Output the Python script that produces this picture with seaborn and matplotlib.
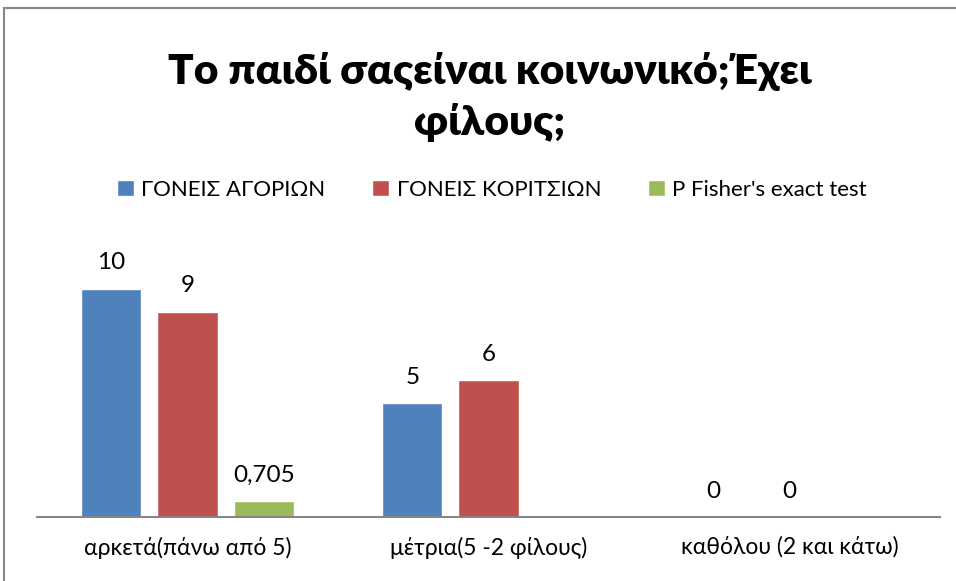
import matplotlib
matplotlib.use("Agg")
import matplotlib.pyplot as plt
import seaborn as sns
import pandas as pd
import numpy as np
from matplotlib.patches import Rectangle

# Chart data
categories = ["αρκετά(πάνω από 5)", "μέτρια(5 -2 φίλους)", "καθόλου (2 και κάτω)"]
series = ["ΓΟΝΕΙΣ ΑΓΟΡΙΩΝ", "ΓΟΝΕΙΣ ΚΟΡΙΤΣΙΩΝ", "P Fisher's exact test"]
boys = [10, 5, 0]
girls = [9, 6, 0]
fisher_p = [0.705, np.nan, np.nan]
colors = ["#4F81BD", "#C0504D", "#9BBB59"]
title = "Το παιδί σαςείναι κοινωνικό;Έχει\nφίλους;"

rows = []
for name, vals in zip(series, [boys, girls, fisher_p]):
    for cat, v in zip(categories, vals):
        rows.append({"category": cat, "series": name, "value": v})
df = pd.DataFrame(rows)

sns.set_theme(style="white")
plt.rcParams["font.family"] = ["Lato", "Noto Sans", "DejaVu Sans"]
plt.rcParams["text.color"] = "black"

W, H = 956, 581
fig = plt.figure(figsize=(W / 100, H / 100), dpi=100)
ax = fig.add_axes([37 / W, 1 - 517 / H, 903 / W, 274 / H])

sns.barplot(data=df, x="category", y="value", hue="series",
            order=categories, hue_order=series, palette=colors,
            width=0.76, gap=0.21, ax=ax, legend=True, saturation=1)

ax.set_ylim(0, 12)
ax.set_xlim(-0.5, 2.5)
ax.set_xlabel("")
ax.set_ylabel("")
ax.set_yticks([])
for side in ["left", "right", "top"]:
    ax.spines[side].set_visible(False)
ax.spines["bottom"].set_color("#868686")
ax.spines["bottom"].set_linewidth(1.5)
ax.tick_params(axis="x", length=0, pad=14, labelsize=16.5, labelcolor="black")

for cont in ax.containers:
    ax.bar_label(cont, fmt=lambda v: f"{v:g}".replace(".", ","),
                 padding=11, fontsize=17.5, color="black")

handles, labels = ax.get_legend_handles_labels()
ax.legend_.remove()
fig.legend(handles, labels, loc="center", bbox_to_anchor=(492 / W, 1 - 190 / H),
           ncol=3, frameon=False, fontsize=16, handlelength=0.75,
           handleheight=0.75, handletextpad=0.35, columnspacing=2.1)

fig.text(490 / W, 1 - 97 / H, title, ha="center", va="center",
         fontsize=30.5, fontweight="heavy", linespacing=1.38, color="black")

# Outer chart border
fig.add_artist(Rectangle((4 / W, -0.05), 1.2, 1 - 8 / H + 0.05,
                         transform=fig.transFigure, fill=False,
                         edgecolor="#868686", linewidth=1.5))

fig.savefig("out.png", dpi=100)
